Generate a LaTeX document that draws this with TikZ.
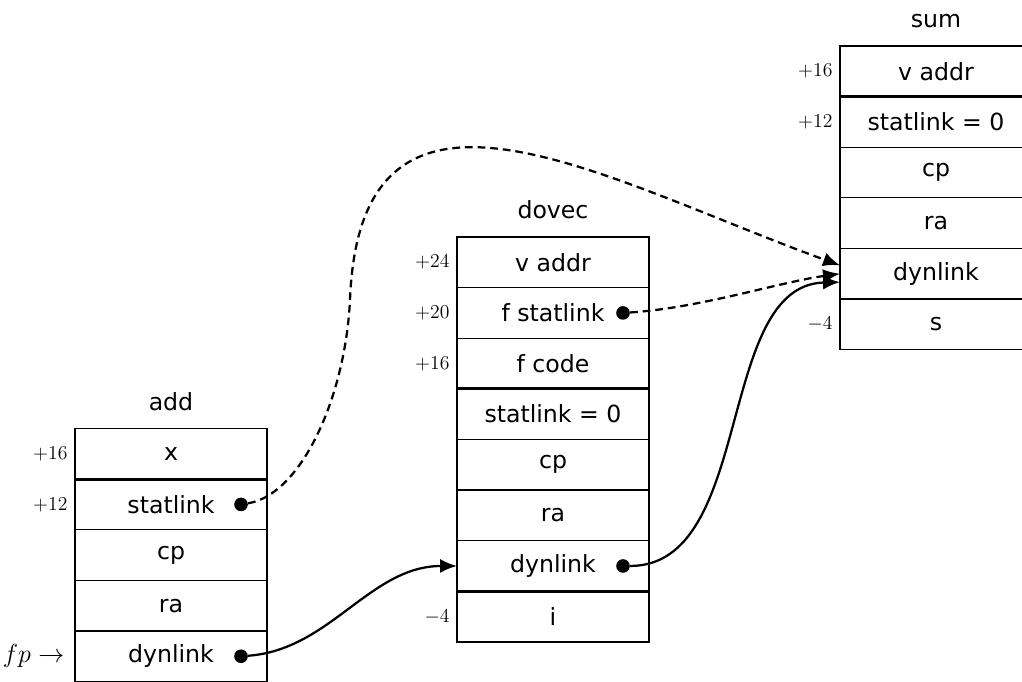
\RequirePackage{fix-cm}
\documentclass[tikz,border=0pt]{standalone}
\usepackage{fontspec}
\setsansfont{DejaVu Sans}
\usetikzlibrary{positioning,arrows.meta}

\tikzset{
  cell/.style={draw, line width=0.9pt, outer sep=0pt, inner sep=0pt,
    minimum width=4.8cm, minimum height=1.265cm,
    font=\sffamily\fontsize{16.8}{20}\selectfont},
  frametitle/.style={anchor=base, font=\sffamily\fontsize{16.8}{20}\selectfont},
  offset/.style={anchor=east, inner sep=0pt, font=\fontsize{14}{16}\selectfont},
  linkdot/.style={circle, fill, inner sep=0pt, minimum size=0.34cm},
  divider/.style={line width=2pt},
  link/.style={line width=1.6pt, -{Latex[length=12pt,width=10pt]}},
  statdash/.style={dash pattern=on 5.5pt off 3.5pt},
}

\begin{document}
\begin{tikzpicture}[x=0.025cm, y=-0.025cm]
  \clip (0,0) rectangle (1022,682);

  % frame of add
  \node[cell] (add1) at (171,453.8) {x};
  \node[cell, below=0pt of add1] (add2) {statlink};
  \node[cell, below=0pt of add2] (add3) {cp};
  \node[cell, below=0pt of add3] (add4) {ra};
  \node[cell, below=0pt of add4] (add5) {dynlink};
  \draw[divider] (add1.south west) -- (add1.south east);
  \node[frametitle] (addname) at ([yshift=0.45cm]add1.north) {add};
  \node[offset] (addoff1) at ([xshift=-0.18cm]add1.west) {$+16$};
  \node[offset] (addoff2) at ([xshift=-0.18cm]add2.west) {$+12$};
  \node[offset, font=\fontsize{18.5}{22}\selectfont] (fp) at ([xshift=-0.26cm]add5.west) {$fp \rightarrow$};
  \node[linkdot] (addsl) at ([xshift=-0.65cm]add2.east) {};
  \node[linkdot] (adddl) at ([xshift=-0.65cm]add5.east) {};

  % frame of dovec
  \node[cell] (dv1) at (553,262.3) {v addr};
  \node[cell, below=0pt of dv1] (dv2) {f statlink};
  \node[cell, below=0pt of dv2] (dv3) {f code};
  \node[cell, below=0pt of dv3] (dv4) {statlink = 0};
  \node[cell, below=0pt of dv4] (dv5) {cp};
  \node[cell, below=0pt of dv5] (dv6) {ra};
  \node[cell, below=0pt of dv6] (dv7) {dynlink};
  \node[cell, below=0pt of dv7] (dv8) {i};
  \draw[divider] (dv3.south west) -- (dv3.south east);
  \draw[divider] (dv7.south west) -- (dv7.south east);
  \node[frametitle] (dvname) at ([yshift=0.45cm]dv1.north) {dovec};
  \node[offset] (dvoff1) at ([xshift=-0.18cm]dv1.west) {$+24$};
  \node[offset] (dvoff2) at ([xshift=-0.18cm]dv2.west) {$+20$};
  \node[offset] (dvoff3) at ([xshift=-0.18cm]dv3.west) {$+16$};
  \node[offset] (dvoff8) at ([xshift=-0.18cm]dv8.west) {$-4$};
  \node[linkdot] (dvsl) at ([xshift=-0.65cm]dv2.east) {};
  \node[linkdot] (dvdl) at ([xshift=-0.65cm]dv7.east) {};

  % frame of sum
  \node[cell] (sum1) at (936,71.3) {v addr};
  \node[cell, below=0pt of sum1] (sum2) {statlink = 0};
  \node[cell, below=0pt of sum2] (sum3) {cp};
  \node[cell, below=0pt of sum3] (sum4) {ra};
  \node[cell, below=0pt of sum4] (sum5) {dynlink};
  \node[cell, below=0pt of sum5] (sum6) {s};
  \draw[divider] (sum1.south west) -- (sum1.south east);
  \draw[divider] (sum5.south west) -- (sum5.south east);
  \node[frametitle] (sumname) at ([yshift=0.45cm]sum1.north) {sum};
  \node[offset] (sumoff1) at ([xshift=-0.18cm]sum1.west) {$+16$};
  \node[offset] (sumoff2) at ([xshift=-0.18cm]sum2.west) {$+12$};
  \node[offset] (sumoff6) at ([xshift=-0.18cm]sum6.west) {$-4$};

  % links
  \draw[link, statdash] (addsl) .. controls (300,495) and (345,400) .. (350,300)
    .. controls (360,35) and (600,178) .. ([yshift=0.21cm]sum5.west);
  \draw[link, statdash] (dvsl) .. controls (700,308) and (780,282) .. (sum5.west);
  \draw[link] (dvdl) .. controls (755,566) and (715,285) .. ([yshift=-0.21cm]sum5.west);
  \draw[link] (adddl) .. controls (330,650) and (370,566) .. (dv7.west);
\end{tikzpicture}
\end{document}
